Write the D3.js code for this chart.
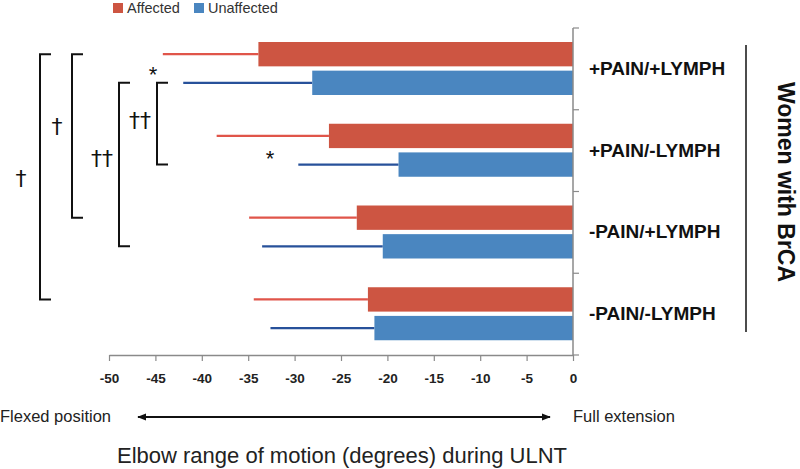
<!DOCTYPE html>
<html><head><meta charset="utf-8">
<script src="https://cdn.jsdelivr.net/npm/d3@7"></script>
<style>body{margin:0;background:#fff}svg{display:block}text{font-family:"Liberation Sans",Arial,sans-serif}</style>
</head><body><svg id="c" width="800" height="469"></svg>
<script>
const categories = ["+PAIN/+LYMPH", "+PAIN/-LYMPH", "-PAIN/+LYMPH", "-PAIN/-LYMPH"];
const seriesNames = ["Affected", "Unaffected"];
const affected = [-33.9, -26.3, -23.3, -22.1];
const affectedErr = [-44.2, -38.4, -34.9, -34.4];
const unaffected = [-28.1, -18.8, -20.5, -21.4];
const unaffectedErr = [-42.0, -29.6, -33.5, -32.6];
const xTicks = [-50, -45, -40, -35, -30, -25, -20, -15, -10, -5, 0];
const brackets = [
  {from: [0, "Affected"], to: [3, "Affected"], x: 40, label: "†", lx: 21, ly: 180},
  {from: [0, "Affected"], to: [2, "Affected"], x: 72, label: "†", lx: 57, ly: 128},
  {from: [0, "Unaffected"], to: [2, "Unaffected"], x: 119, label: "††", lx: 102, ly: 160},
  {from: [0, "Unaffected"], to: [1, "Unaffected"], x: 157, label: "††", lx: 140, ly: 122}
];
const stars = [{cat: 0, x: 153, dy: 1}, {cat: 1, x: 270, dy: 3}];

const colors = {Affected: "#cd5542", Unaffected: "#4a86c0"};
const errColors = {Affected: "#e0554a", Unaffected: "#27519a"};

const svg = d3.select("#c");
const x = d3.scaleLinear().domain([-50, 0]).range([109, 573]);
const y = d3.scaleBand().domain(categories).range([28, 355]);
const ys = d3.scaleBand().domain(seriesNames).range([14, 67]).paddingInner(0.15);

const data = [];
categories.forEach((c, i) => {
  data.push({cat: c, s: "Affected", v: affected[i], e: affectedErr[i]});
  data.push({cat: c, s: "Unaffected", v: unaffected[i], e: unaffectedErr[i]});
});

// error lines
svg.append("g").selectAll("line").data(data).join("line")
  .attr("x1", d => x(d.e)).attr("x2", d => x(d.v))
  .attr("y1", d => y(d.cat) + ys(d.s) + ys.bandwidth() / 2)
  .attr("y2", d => y(d.cat) + ys(d.s) + ys.bandwidth() / 2)
  .attr("stroke", d => errColors[d.s]).attr("stroke-width", 2.2);

// bars
svg.append("g").selectAll("rect").data(data).join("rect")
  .attr("x", d => x(d.v)).attr("width", d => x(0) - x(d.v))
  .attr("y", d => y(d.cat) + ys(d.s)).attr("height", ys.bandwidth())
  .attr("fill", d => colors[d.s]);

// x axis
const xa = svg.append("g").attr("transform", "translate(0,355)")
  .call(d3.axisBottom(x).tickValues(xTicks).tickSize(6).tickSizeOuter(0).tickFormat(d3.format("d")));
xa.select(".domain").attr("stroke", "#8a8a8a").attr("stroke-width", 1.5);
xa.selectAll(".tick line").attr("stroke", "#8a8a8a").attr("stroke-width", 1.2);
xa.selectAll(".tick text").attr("fill", "#222").attr("font-size", 13.5).attr("font-weight", "bold")
  .attr("font-family", "'Liberation Sans', Arial, sans-serif").attr("dy", 0).attr("y", 28)
  .text(d => d === 0 ? "0" : "-" + Math.abs(d));

// y axis (line + ticks at band edges)
const yEdges = categories.map(c => y(c)).concat([y.range()[1]]);
svg.append("line").attr("x1", x(0)).attr("x2", x(0)).attr("y1", 28).attr("y2", 355)
  .attr("stroke", "#8a8a8a").attr("stroke-width", 1.5);
svg.append("g").selectAll("line").data(yEdges).join("line")
  .attr("x1", x(0)).attr("x2", x(0) + 6).attr("y1", d => d).attr("y2", d => d)
  .attr("stroke", "#8a8a8a").attr("stroke-width", 1.2);

// category labels
svg.append("g").selectAll("text").data(categories).join("text")
  .attr("x", 589).attr("y", d => y(d) + y.bandwidth() / 2 + 1)
  .attr("dominant-baseline", "middle").attr("font-size", 19).attr("font-weight", "bold")
  .attr("fill", "#111").text(d => d);

// group label
svg.append("line").attr("x1", 746).attr("x2", 746).attr("y1", 45).attr("y2", 332)
  .attr("stroke", "#111").attr("stroke-width", 1.5);
svg.append("text").attr("transform", "translate(784,182) rotate(90)")
  .attr("text-anchor", "middle").attr("dominant-baseline", "middle")
  .attr("font-size", 23).attr("font-weight", "bold").attr("fill", "#111").text("Women with BrCA");

// brackets
const cy = (i, s) => y(categories[i]) + ys(s) + ys.bandwidth() / 2;
brackets.forEach(b => {
  const y1 = cy(b.from[0], b.from[1]), y2 = cy(b.to[0], b.to[1]);
  svg.append("path").attr("d", `M${b.x + 11},${y1}H${b.x}V${y2}H${b.x + 11}`)
    .attr("fill", "none").attr("stroke", "#111").attr("stroke-width", 2);
  svg.append("text").attr("x", b.lx).attr("y", b.ly).attr("text-anchor", "middle")
    .attr("dominant-baseline", "middle").attr("font-size", 22)
    .style("font-family", "'DejaVu Sans', sans-serif").attr("fill", "#111").text(b.label);
});
stars.forEach(s => {
  const yy = (cy(s.cat, "Affected") + cy(s.cat, "Unaffected")) / 2 + s.dy;
  svg.append("text").attr("x", s.x).attr("y", yy + 7).attr("text-anchor", "middle")
    .attr("dominant-baseline", "middle").attr("font-size", 22).attr("fill", "#111").text("*");
});

// legend
const lg = svg.append("g");
[{s: "Affected", x: 113, tx: 127}, {s: "Unaffected", x: 194, tx: 208}].forEach(l => {
  lg.append("rect").attr("x", l.x).attr("y", 3).attr("width", 10).attr("height", 10).attr("fill", colors[l.s]);
  lg.append("text").attr("x", l.tx).attr("y", 9).attr("dominant-baseline", "middle")
    .attr("font-size", 14.5).attr("fill", "#333").text(l.s);
});

// direction arrow
const defs = svg.append("defs");
defs.append("marker").attr("id", "ah").attr("viewBox", "0 0 10 10").attr("refX", 9).attr("refY", 5)
  .attr("markerWidth", 5).attr("markerHeight", 5).attr("orient", "auto-start-reverse")
  .attr("markerUnits", "strokeWidth")
  .append("path").attr("d", "M0,1L10,5L0,9Z").attr("fill", "#111");
svg.append("line").attr("x1", 138).attr("x2", 550).attr("y1", 417).attr("y2", 417)
  .attr("stroke", "#111").attr("stroke-width", 1.8)
  .attr("marker-start", "url(#ah)").attr("marker-end", "url(#ah)");
svg.append("text").attr("x", 0).attr("y", 418).attr("dominant-baseline", "middle")
  .attr("font-size", 16.5).attr("fill", "#222").text("Flexed position");
svg.append("text").attr("x", 573).attr("y", 418).attr("dominant-baseline", "middle")
  .attr("font-size", 16.5).attr("fill", "#222").text("Full extension");
svg.append("text").attr("x", 342).attr("y", 457).attr("text-anchor", "middle").attr("dominant-baseline", "middle")
  .attr("font-size", 22).attr("fill", "#222").text("Elbow range of motion (degrees) during ULNT");
</script></body></html>
